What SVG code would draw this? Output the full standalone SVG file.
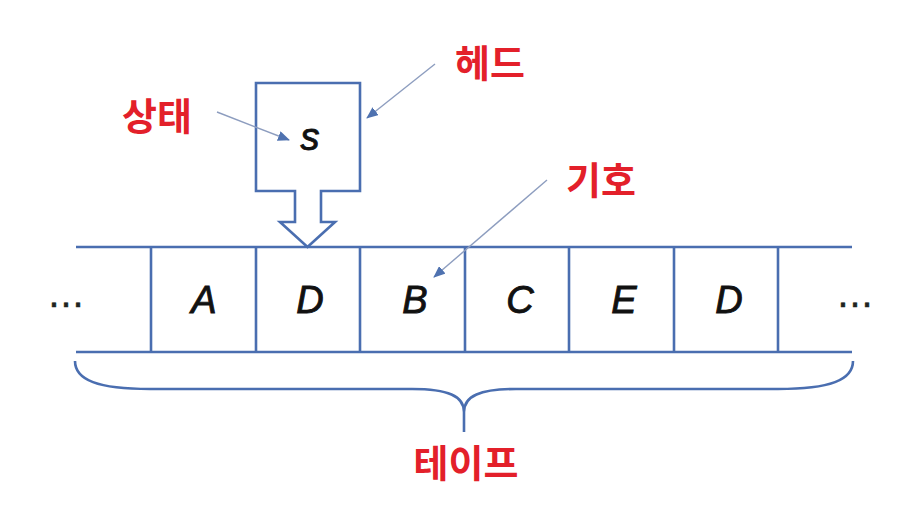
<svg xmlns="http://www.w3.org/2000/svg" width="916" height="510" viewBox="0 0 916 510">
<defs>
<style>
.ln{fill:none;stroke:#4a6eb0;stroke-width:2.6}
.lbl{font-family:"Noto Sans CJK KR","Noto Sans",sans-serif;font-weight:bold;font-size:38px;fill:#e3202a}
.sym{font-family:"Liberation Sans",Arial,sans-serif;font-style:italic;font-size:38px;fill:#111;stroke:#111;stroke-width:0.9}
.dots{font-family:"Liberation Sans",Arial,sans-serif;font-size:38px;fill:#222;stroke:#222;stroke-width:0.6}
.ptr{fill:none;stroke:#8d9dbf;stroke-width:1.4}
</style>
<marker id="ah" markerWidth="12" markerHeight="10" refX="11" refY="5" orient="auto" markerUnits="userSpaceOnUse">
<path d="M0,0 L12,5 L0,10 Z" fill="#4f72b0"/>
</marker>
</defs>
<rect width="916" height="510" fill="#fff"/>
<g id="tape">
<line class="ln" x1="76" y1="247" x2="852" y2="247"/>
<line class="ln" x1="76" y1="352" x2="852" y2="352"/>
<line class="ln" x1="151" y1="247" x2="151" y2="352"/>
<line class="ln" x1="256" y1="247" x2="256" y2="352"/>
<line class="ln" x1="360" y1="247" x2="360" y2="352"/>
<line class="ln" x1="465" y1="247" x2="465" y2="352"/>
<line class="ln" x1="569" y1="247" x2="569" y2="352"/>
<line class="ln" x1="674" y1="247" x2="674" y2="352"/>
<line class="ln" x1="778" y1="247" x2="778" y2="352"/>
<text class="dots" x="47" y="307">…</text>
<text class="dots" x="836" y="307">…</text>
<text class="sym" x="204" y="313" text-anchor="middle">A</text>
<text class="sym" x="310" y="313" text-anchor="middle">D</text>
<text class="sym" x="415" y="313" text-anchor="middle">B</text>
<text class="sym" x="520" y="313" text-anchor="middle">C</text>
<text class="sym" x="624" y="313" text-anchor="middle">E</text>
<text class="sym" x="729" y="313" text-anchor="middle">D</text>
</g>
<g id="head">
<path class="ln" d="M256 83 L360 83 L360 191 L321 191 L321 222 L335 222 L307.5 247 L280 222 L295 222 L295 191 L256 191 Z"/>
<text class="sym" x="310" y="150" text-anchor="middle">s</text>
</g>
<g id="brace">
<path class="ln" d="M75 361 C75 380 98 389 150 389 L412 389 C448 389 464 396 464 412 L464 432 M464 412 C464 396 480 389 516 389 L778 389 C830 389 853 380 853 361"/>
</g>
<g id="labels">
<text class="lbl" x="157" y="130" text-anchor="middle">상태</text>
<text class="lbl" x="490" y="77" text-anchor="middle">헤드</text>
<text class="lbl" x="601" y="194" text-anchor="middle">기호</text>
<text class="lbl" x="466" y="477" text-anchor="middle">테이프</text>
</g>
<g id="connectors">
<line class="ptr" x1="217" y1="112" x2="289" y2="140" marker-end="url(#ah)"/>
<line class="ptr" x1="435" y1="64" x2="367" y2="118" marker-end="url(#ah)"/>
<line class="ptr" x1="547" y1="180" x2="434" y2="277" marker-end="url(#ah)"/>
</g>
</svg>
